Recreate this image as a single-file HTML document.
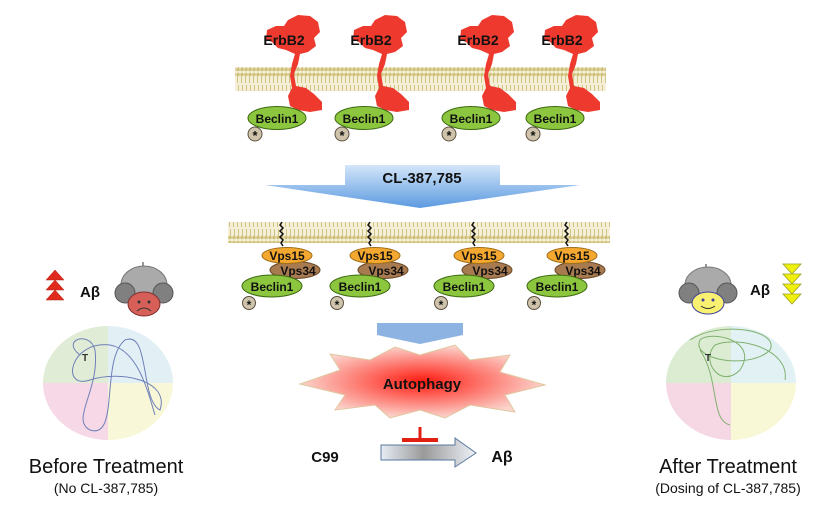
<!DOCTYPE html>
<html><head><meta charset="utf-8"><style>
html,body{margin:0;padding:0;background:#fff;}
svg text{font-family:"Liberation Sans",sans-serif;}
</style></head><body>
<svg width="836" height="504" viewBox="0 0 836 504" xmlns="http://www.w3.org/2000/svg">
<defs>
<pattern id="lip" x="0" y="0" width="4" height="24" patternUnits="userSpaceOnUse">
<rect width="4" height="24" fill="#f4efd6"/>
<circle cx="2" cy="2.5" r="1.8" fill="#cfc07a"/>
<circle cx="2" cy="21.5" r="1.8" fill="#cfc07a"/>
<line x1="1.5" y1="4" x2="1.5" y2="11" stroke="#c7b870" stroke-width="0.8"/>
<line x1="2.5" y1="13" x2="2.5" y2="20" stroke="#c7b870" stroke-width="0.8"/>
</pattern>
<linearGradient id="blue" x1="0" y1="0" x2="0" y2="1"><stop offset="0" stop-color="#d4e6fa"/><stop offset="1" stop-color="#5b9ae0"/></linearGradient>
<radialGradient id="burst" cx="0.5" cy="0.5" r="0.5"><stop offset="0" stop-color="#ff1a10"/><stop offset="1" stop-color="#fbd4cc"/></radialGradient>
<linearGradient id="grey" x1="0" y1="0" x2="1" y2="0"><stop offset="0" stop-color="#e6ecf4"/><stop offset="0.45" stop-color="#9a9a9a"/><stop offset="1" stop-color="#eef2f8"/></linearGradient>
<g id="erb">
<path d="M267,30 L276,26 L284,26 L288,20 L298,15 L310,16 L318,22 L320,32 L314,38 L316,46 L308,52 L300,54 L298,64 L294,74 L296,86 L306,88 L314,94 L322,102 L322,110 L310,112 L298,110 L290,106 L288,96 L292,88 L290,76 L292,64 L295,54 L286,50 L278,48 L272,42 L266,40 Z" fill="#ee3a2e"/>
<text x="284" y="45" font-size="14" font-weight="bold" text-anchor="middle" fill="#111">ErbB2</text>
<ellipse cx="277" cy="118" rx="29" ry="11.5" fill="#8cc63f" stroke="#3c6a10" stroke-width="1"/>
<text x="277" y="123" font-size="12" font-weight="bold" text-anchor="middle" fill="#111">Beclin1</text>
<circle cx="255" cy="134" r="7" fill="#cfc3ac" stroke="#5a5040" stroke-width="1"/>
<text x="255" y="140" font-size="13" font-weight="bold" text-anchor="middle" fill="#111">*</text>
</g>
<g id="vps">
<path d="M282,222 l-2,3 l3,3 l-3,3 l3,3 l-3,3 l3,3 l-2,3 l2,3" stroke="#111" stroke-width="1.5" fill="none"/>
<ellipse cx="295" cy="270" rx="25" ry="8.5" fill="#a87a50" stroke="#6a4a2a" stroke-width="1"/>
<text x="298" y="275" font-size="12" font-weight="bold" text-anchor="middle" fill="#111">Vps34</text>
<ellipse cx="287" cy="255.5" rx="25" ry="8" fill="#f5a830" stroke="#a0701a" stroke-width="1"/>
<text x="287" y="260" font-size="12" font-weight="bold" text-anchor="middle" fill="#111">Vps15</text>
<ellipse cx="272" cy="286" rx="30" ry="11" fill="#8cc63f" stroke="#3c6a10" stroke-width="1"/>
<text x="272" y="291" font-size="12" font-weight="bold" text-anchor="middle" fill="#111">Beclin1</text>
<circle cx="249" cy="303" r="6.5" fill="#cfc3ac" stroke="#5a5040" stroke-width="1"/>
<text x="249" y="309" font-size="12" font-weight="bold" text-anchor="middle" fill="#111">*</text>
</g>
</defs>
<rect x="235" y="67" width="371" height="24" fill="url(#lip)"/>
<use href="#erb"/>
<use href="#erb" x="87"/>
<use href="#erb" x="194"/>
<use href="#erb" x="278"/>
<path d="M345,165 L500,165 L500,185 L580,185 L420,208 L265,185 L345,185 Z" fill="url(#blue)"/>
<text x="422" y="183" font-size="15" font-weight="bold" text-anchor="middle" fill="#111">CL-387,785</text>
<rect x="228" y="222" width="382" height="21" fill="url(#lip)"/>
<use href="#vps"/>
<use href="#vps" x="88"/>
<use href="#vps" x="192"/>
<use href="#vps" x="285"/>
<path d="M377,323 L463,323 L463,335 L420,344 L377,335 Z" fill="#8db3e2"/>
<path d="M300,384 L340,370 L330,354 L370,360 L395,347 L420,355 L455,345 L470,360 L510,355 L500,372 L545,385 L505,395 L515,412 L470,405 L445,418 L420,410 L390,418 L375,405 L335,410 L345,395 Z" fill="url(#burst)" stroke="#e0c8a0" stroke-width="1"/>
<text x="422" y="389" font-size="15" font-weight="bold" text-anchor="middle" fill="#111">Autophagy</text>
<line x1="420" y1="427" x2="420" y2="439" stroke="#e02010" stroke-width="3"/>
<line x1="402" y1="440" x2="438" y2="440" stroke="#e02010" stroke-width="4"/>
<text x="325" y="462" font-size="15" font-weight="bold" text-anchor="middle" fill="#111">C99</text>
<path d="M381,445 L455,445 L455,438 L476,453 L455,467 L455,460 L381,460 Z" fill="url(#grey)" stroke="#5a7aa0" stroke-width="1"/>
<text x="502" y="462" font-size="16" font-weight="bold" text-anchor="middle" fill="#111">Aβ</text>
<g fill="#e02a1e" stroke="#b02010" stroke-width="0.5">
<path d="M55,270 L64,280 L46,280 Z"/><path d="M55,280 L64,290 L46,290 Z"/><path d="M55,290 L64,300 L46,300 Z"/>
</g>
<text x="90" y="297" font-size="15" font-weight="bold" text-anchor="middle" fill="#111">Aβ</text>
<g>
<line x1="143" y1="262" x2="143" y2="270" stroke="#999" stroke-width="2"/>
<ellipse cx="144" cy="285" rx="23" ry="19" fill="#aaa" stroke="#777"/>
<circle cx="125" cy="293" r="10" fill="#808080" stroke="#555"/>
<circle cx="163" cy="293" r="10" fill="#808080" stroke="#555"/>
<ellipse cx="144" cy="304" rx="16" ry="12" fill="#d66058" stroke="#7a3030"/>
<circle cx="139" cy="302" r="1.5" fill="#333"/><circle cx="149" cy="302" r="1.5" fill="#333"/>
<path d="M137,311 Q144,305 151,311" stroke="#333" fill="none"/>
</g>
<g>
<path d="M108,326 A65,57 0 0 0 43,383 L108,383 Z" fill="#e0ecd6"/>
<path d="M108,326 A65,57 0 0 1 173,383 L108,383 Z" fill="#e2f0f6"/>
<path d="M43,383 A65,57 0 0 0 108,440 L108,383 Z" fill="#f6d8e6"/>
<path d="M173,383 A65,57 0 0 1 108,440 L108,383 Z" fill="#f8f8d8"/>
<path d="M80,355 C60,340 90,330 95,350 C100,390 70,420 90,430 C120,440 100,360 125,340 C150,330 140,400 160,410 C170,380 120,370 90,380 C60,390 70,340 110,345 C140,350 150,400 155,415" stroke="#7080b8" fill="none" stroke-width="1"/>
<text x="82" y="361" font-size="10" font-weight="bold" fill="#333">T</text>
</g>
<text x="106" y="473" font-size="20" text-anchor="middle" fill="#111">Before Treatment</text>
<text x="106" y="493" font-size="14" text-anchor="middle" fill="#111">(No CL-387,785)</text>
<g>
<line x1="706" y1="264" x2="706" y2="272" stroke="#999" stroke-width="2"/>
<ellipse cx="708" cy="285" rx="23" ry="18" fill="#aaa" stroke="#777"/>
<circle cx="689" cy="293" r="10" fill="#808080" stroke="#555"/>
<circle cx="727" cy="293" r="10" fill="#808080" stroke="#555"/>
<ellipse cx="708" cy="303" rx="16" ry="11" fill="#f8f070" stroke="#4040a0"/>
<circle cx="703" cy="300" r="1.5" fill="#4040a0"/><circle cx="713" cy="300" r="1.5" fill="#4040a0"/>
<path d="M701,306 Q708,311 715,306" stroke="#333" fill="none"/>
</g>
<text x="760" y="295" font-size="15" font-weight="bold" text-anchor="middle" fill="#111">Aβ</text>
<g fill="#f0f010" stroke="#9aa020" stroke-width="0.8">
<path d="M783,264 L801,264 L792,274 Z"/><path d="M783,274 L801,274 L792,284 Z"/><path d="M783,284 L801,284 L792,294 Z"/><path d="M783,294 L801,294 L792,304 Z"/>
</g>
<g>
<path d="M731,326 A65,57 0 0 0 666,383 L731,383 Z" fill="#dcecd2"/>
<path d="M731,326 A65,57 0 0 1 796,383 L731,383 Z" fill="#e2f2f4"/>
<path d="M666,383 A65,57 0 0 0 731,440 L731,383 Z" fill="#f6d8e4"/>
<path d="M796,383 A65,57 0 0 1 731,440 L731,383 Z" fill="#f8f8d6"/>
<path d="M690,340 C720,320 780,330 770,350 C750,370 690,360 700,340 C710,330 760,340 740,370 C720,390 700,360 715,345 C740,335 790,350 785,380 M700,350 C720,380 710,420 730,425" stroke="#80b070" fill="none" stroke-width="1"/>
<text x="705" y="361" font-size="10" font-weight="bold" fill="#333">T</text>
</g>
<text x="728" y="473" font-size="20" text-anchor="middle" fill="#111">After Treatment</text>
<text x="728" y="493" font-size="14" text-anchor="middle" fill="#111">(Dosing of CL-387,785)</text>
</svg>
</body></html>
